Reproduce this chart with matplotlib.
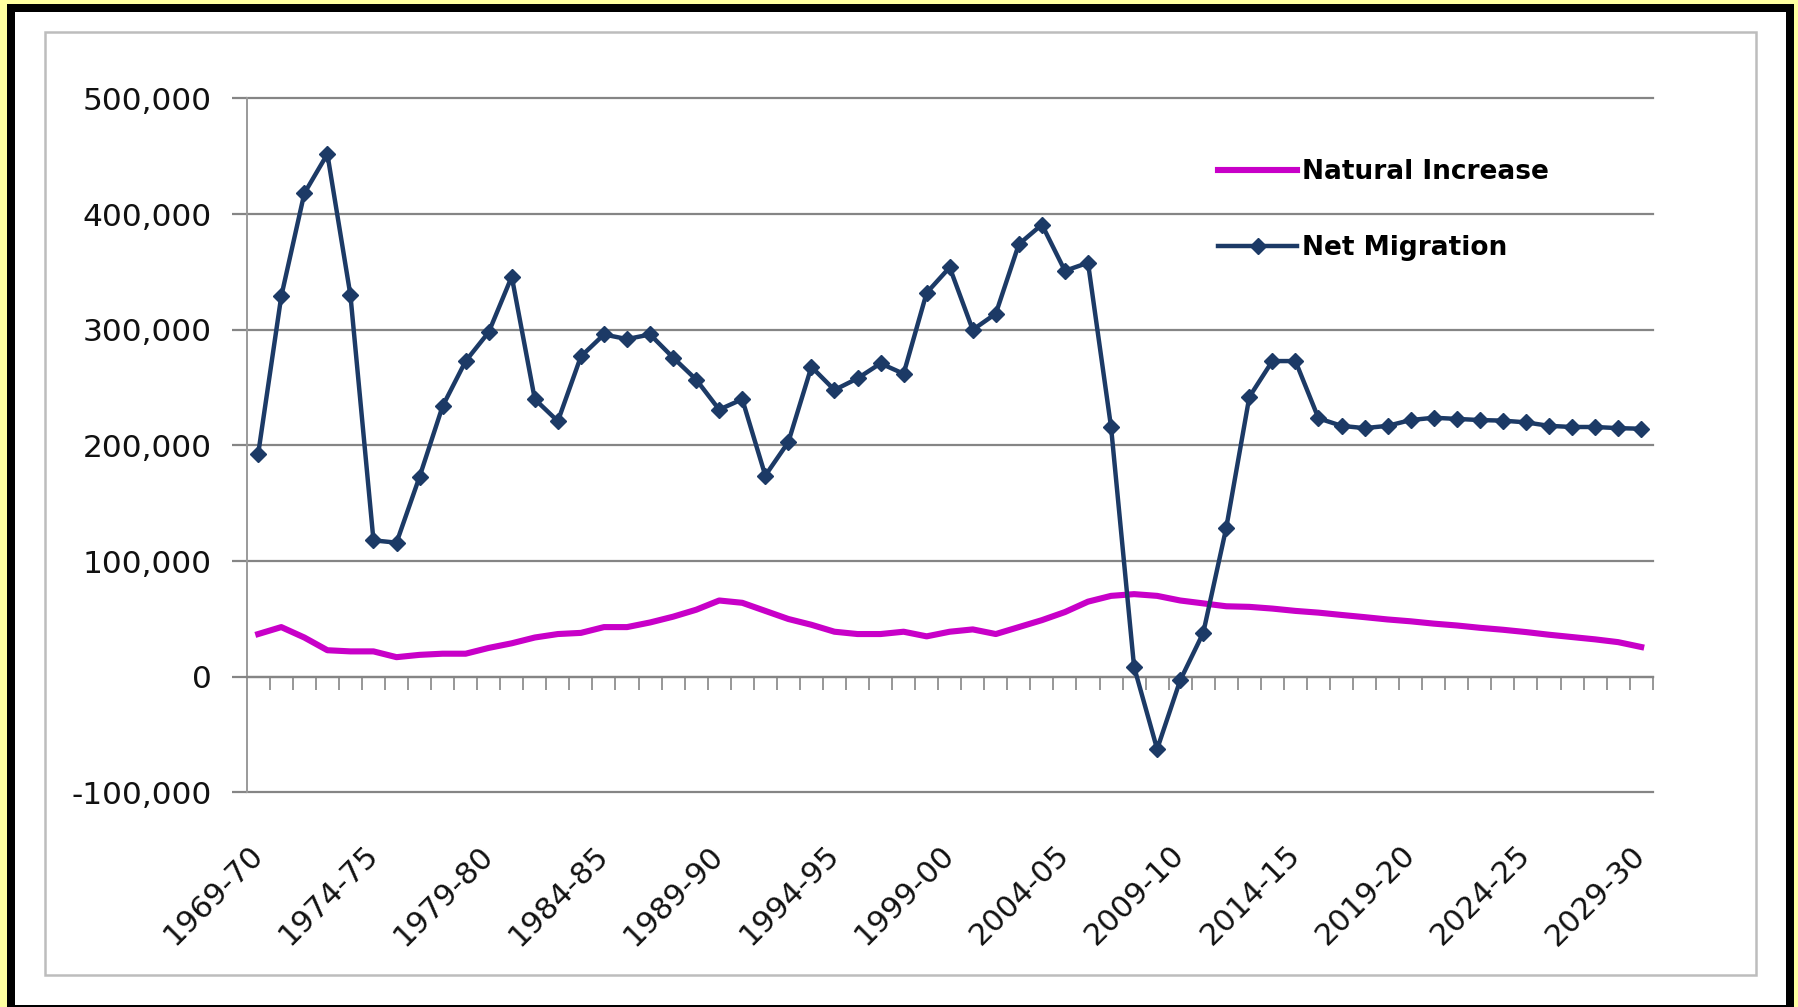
import numpy as np
import matplotlib
matplotlib.use("Agg")
import matplotlib.pyplot as plt
from matplotlib.patches import Rectangle
from matplotlib.ticker import FuncFormatter
from matplotlib.transforms import blended_transform_factory, ScaledTranslation

# financial years 1969-70 .. 2029-30
periods = [f"{y}-{str(y + 1)[-2:]}" for y in range(1969, 2030)]

net_migration = [193000, 329000, 418000, 452000, 330000, 118000, 116000, 173000, 234000, 273000,
                 298000, 346000, 240000, 221000, 277000, 296000, 292000, 296000, 276000, 257000,
                 231000, 240000, 174000, 203000, 268000, 248000, 258000, 271000, 262000, 332000,
                 354000, 300000, 314000, 374000, 391000, 351000, 358000, 216000, 8500, -62500,
                 -3000, 38000, 129000, 242000, 273000, 273000, 223500, 217000, 215000, 217000,
                 222000, 224000, 223000, 222000, 221500, 220000, 217000, 216000, 216000, 215000,
                 214500]

natural_increase = [37000, 43000, 34000, 23000, 22000, 22000, 17000, 19000, 20000, 20000,
                    25000, 29000, 34000, 37000, 38000, 43000, 43000, 47000, 52000, 58000,
                    66000, 64000, 57000, 50000, 45000, 39000, 37000, 37000, 39000, 35000,
                    39000, 41000, 37000, 43000, 49000, 56000, 65000, 70000, 71500, 70000,
                    66000, 63500, 61000, 60500, 59000, 57000, 55500, 53500, 51600, 49600,
                    48000, 46000, 44400, 42400, 40700, 38700, 36400, 34400, 32400, 30000,
                    25800]

W, H = 1798, 1007
fig = plt.figure(figsize=(W / 100, H / 100), dpi=100, facecolor='#FFFFA0')


def px_rect(x0, y0, x1, y1, **kw):
    """Rectangle given in figure pixels, origin top-left"""
    return Rectangle((x0 / W, 1 - y1 / H), (x1 - x0) / W, (y1 - y0) / H,
                     transform=fig.transFigure, **kw)


# black frame, white card, light grey chart-area border (all behind the axes)
fig.patches.append(px_rect(7, 4, 1794, 1012, facecolor='black', edgecolor='none', zorder=-10))
fig.patches.append(px_rect(15, 12, 1786, 1005, facecolor='white', edgecolor='none', zorder=-9))
fig.patches.append(px_rect(45, 32, 1756, 975, facecolor='none', edgecolor='#BDBDBD', lw=1.8, zorder=-8))

ax = fig.add_axes([246.7 / W, 1 - 792.5 / H, (1652.7 - 246.7) / W, (792.5 - 98.5) / H])
ax.patch.set_alpha(0)

x = np.arange(len(periods))
ax.plot(x, natural_increase, color='#C800C8', lw=4.4, solid_joinstyle='round',
        label='Natural Increase', zorder=3)
ax.plot(x, net_migration, color='#1C3A66', lw=3.2, marker='D', ms=8, mec='#1C3A66',
        label='Net Migration', zorder=4)

ax.set_xlim(-0.5, len(periods) - 0.5)
ax.set_ylim(-100000, 500000)
ax.set_yticks(np.arange(-100000, 500001, 100000))
ax.yaxis.set_major_formatter(FuncFormatter(lambda v, p: f"{v:,.0f}"))
ax.grid(axis='y', color='#858585', lw=1.6)
ax.set_axisbelow(True)
# keep the top (500,000) gridline from being clipped at the axes edge
for gl in ax.get_ygridlines():
    gl.set_clip_on(False)

for side in ['top', 'right']:
    ax.spines[side].set_visible(False)
ax.spines['left'].set_color('#9A9A9A')
ax.spines['left'].set_linewidth(1.4)
ax.spines['bottom'].set_position(('data', 0))
ax.spines['bottom'].set_color('#858585')
ax.spines['bottom'].set_linewidth(1.6)

ax.tick_params(axis='y', length=11, width=1.6, color='#858585', pad=14,
               labelsize=22.5, labelcolor='#111111')
ax.set_xticks(np.arange(-0.5, len(periods), 1))
ax.tick_params(axis='x', direction='out', length=9, width=1.2, color='#858585',
               labelbottom=False)

# category labels sit below the plot, every fifth year
lab_tr = blended_transform_factory(ax.transData, ax.transAxes) + \
    ScaledTranslation(0, -0.58, fig.dpi_scale_trans)
for i in range(0, len(periods), 5):
    ax.text(i, 0, periods[i], transform=lab_tr, rotation=45, ha='right', va='center',
            rotation_mode='anchor', fontsize=22, color='#111111')

ax.legend(loc='center left', bbox_to_anchor=(1218 / W, 1 - 210 / H),
          bbox_transform=fig.transFigure, frameon=False,
          prop={'family': 'DejaVu Sans', 'weight': 'bold', 'size': 19},
          handlelength=3.0, handletextpad=0.2, labelspacing=1.9,
          borderpad=0, borderaxespad=0)

fig.savefig('out.png', dpi=100, facecolor=fig.get_facecolor())
